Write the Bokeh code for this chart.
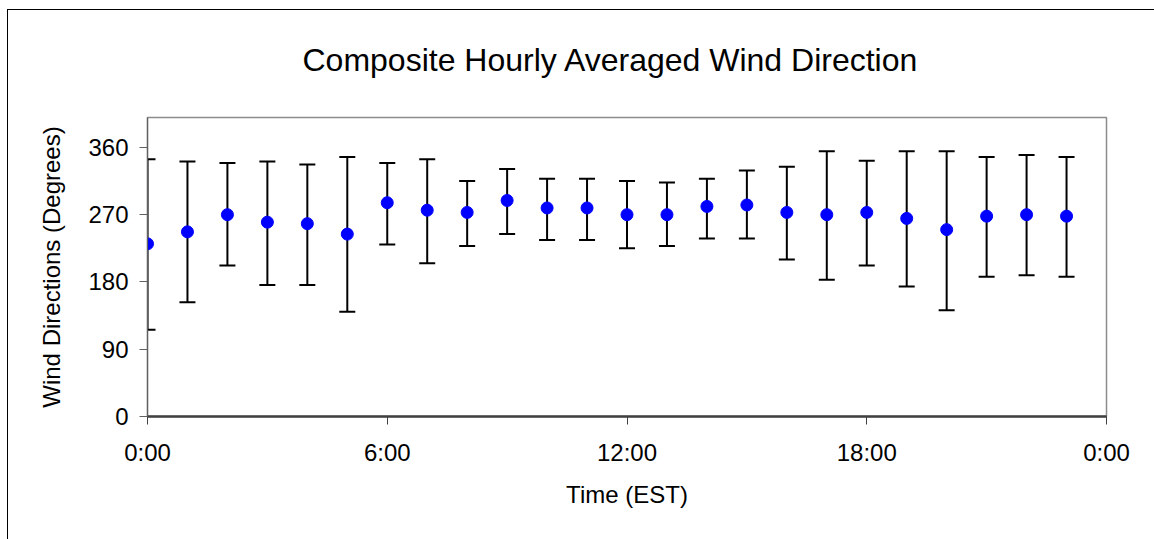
from bokeh.plotting import figure
from bokeh.models import Range1d, FixedTicker, Whisker, ColumnDataSource, TeeHead, InlineStyleSheet
from bokeh.embed import file_html
from bokeh.resources import INLINE

hours = list(range(24))
means = [231, 247, 270, 260, 258, 244, 286, 276, 273, 289, 279, 279,
         270, 270, 281, 283, 273, 270, 273, 265, 250, 268, 270, 268]
upper = [344, 341, 339, 341, 337, 347, 339, 344, 315, 331, 318, 318,
         315, 313, 318, 329, 334, 355, 342, 355, 355, 347, 350, 347]
lower = [116, 153, 202, 176, 176, 140, 230, 205, 228, 244, 236, 236,
         225, 228, 238, 238, 210, 183, 202, 174, 142, 187, 189, 187]
x_ticks = [0, 6, 12, 18, 24]
x_tick_labels = ["0:00", "6:00", "12:00", "18:00", "0:00"]
y_ticks = [0, 90, 180, 270, 360]

FONT = "Liberation Sans"

src = ColumnDataSource(dict(x=hours, y=means, upper=upper, lower=lower))

border_css = InlineStyleSheet(css="""
:host { position: relative; }
:host::after {
  content: '';
  position: absolute;
  left: 7px; top: 9px; right: 0px; bottom: 0px;
  border-left: 1.5px solid #000;
  border-top: 1.5px solid #000;
  pointer-events: none;
}
""")

p = figure(width=1154, height=539, output_backend="svg", toolbar_location=None,
           x_range=Range1d(0, 24), y_range=Range1d(0, 400),
           min_border_left=147, min_border_right=48, min_border_top=116, min_border_bottom=123,
           stylesheets=[border_css])

p.title.text = "Composite Hourly Averaged Wind Direction"
p.title.text_font = FONT
p.title.text_font_size = "32px"
p.title.text_font_style = "normal"
p.title.align = "left"
p.title.offset = 155
p.title.standoff = 79
p.title.text_color = "black"

p.xgrid.visible = False
p.ygrid.visible = False
p.outline_line_color = "#8c8c8c"
p.outline_line_width = 1.5
p.background_fill_color = "white"
p.border_fill_color = "white"

# x axis
xa = p.xaxis[0]
xa.ticker = FixedTicker(ticks=x_ticks)
xa.major_label_overrides = {t: l for t, l in zip(x_ticks, x_tick_labels)}
xa.minor_tick_line_color = None
xa.major_tick_out = 8
xa.major_tick_in = 0
xa.axis_line_color = "#404040"
xa.axis_line_width = 2.5
xa.major_tick_line_color = "#404040"
xa.major_tick_line_width = 1
xa.major_label_text_font = FONT
xa.major_label_text_font_size = "24px"
xa.major_label_text_color = "black"
xa.major_label_standoff = 14
xa.axis_label = "Time (EST)"
xa.axis_label_text_font = FONT
xa.axis_label_text_font_size = "24px"
xa.axis_label_text_font_style = "normal"
xa.axis_label_text_color = "black"
xa.axis_label_standoff = 12

# y axis
ya = p.yaxis[0]
ya.ticker = FixedTicker(ticks=y_ticks)
ya.minor_tick_line_color = None
ya.major_tick_out = 8
ya.major_tick_in = 0
ya.axis_line_color = "#606060"
ya.axis_line_width = 1.2
ya.major_tick_line_color = "#606060"
ya.major_label_text_font = FONT
ya.major_label_text_font_size = "24px"
ya.major_label_text_color = "black"
ya.major_label_standoff = 11
ya.axis_label = "Wind Directions (Degrees)"
ya.axis_label_text_font = FONT
ya.axis_label_text_font_size = "24px"
ya.axis_label_text_font_style = "normal"
ya.axis_label_text_color = "black"
ya.axis_label_standoff = 20

wh = Whisker(source=src, base="x", upper="upper", lower="lower",
             line_color="black", line_width=2,
             upper_head=TeeHead(size=16, line_color="black", line_width=2),
             lower_head=TeeHead(size=16, line_color="black", line_width=2),
             level="underlay")
p.add_layout(wh)

p.scatter("x", "y", source=src, size=12, fill_color="#0000ff", line_color="#0000ff")

open("out.html", "w").write(file_html(p, INLINE))
